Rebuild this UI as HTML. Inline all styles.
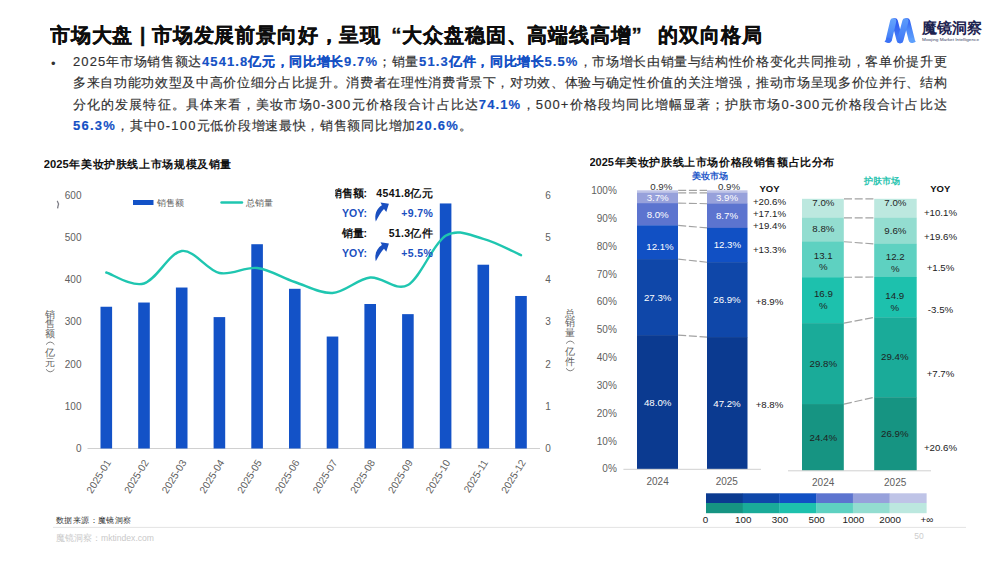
<!DOCTYPE html>
<html lang="zh"><head><meta charset="utf-8"><title>市场大盘</title>
<style>
html,body{margin:0;padding:0;background:#fff;}
body{width:1000px;height:562px;position:relative;overflow:hidden;font-family:"Liberation Sans",sans-serif;color:#111;}
.abs{position:absolute;white-space:nowrap;}
#title{left:50px;top:21px;width:711.7px;height:28px;overflow:hidden;white-space:normal;font-size:20.4px;font-weight:bold;line-height:28px;color:#0d0d0d;-webkit-text-stroke:0.3px #0d0d0d;text-align:justify;text-align-last:justify;}
#title i{font-style:normal;display:inline-block;width:1em;}
.pl i{font-style:normal;letter-spacing:1.1px;}
.pl{left:73px;font-size:13px;line-height:18px;color:#303030;letter-spacing:0.55px;-webkit-text-stroke:0.15px #303030;}
.pj{width:874.2px;height:18px;overflow:hidden;text-align:justify;text-align-last:justify;white-space:normal;}
.pl b{color:#1450c4;font-weight:bold;-webkit-text-stroke:0.15px #1450c4;}
#bullet{left:51px;top:55px;font-size:13px;line-height:18px;color:#333;}
.ct{font-size:11.5px;font-weight:bold;color:#111;line-height:14px;}
svg{position:absolute;left:0;top:0;}
svg text{font-family:"Liberation Sans",sans-serif;}
</style></head><body>

<div id="title" class="abs">市场大盘 | 市场发展前景向好，呈现<i style="text-align:right;text-align-last:right">“</i>大众盘稳固、高端线高增<i style="text-align:left;text-align-last:left">”</i> 的双向格局</div>
<div id="bullet" class="abs">•</div>
<div class="abs pl pj" id="pl0" style="top:53.1px;"><i>2025</i>年市场销售额达<b><i>4541.8</i>亿元，同比增长<i>9.7%</i></b>；销量<b><i>51.3</i>亿件，同比增长<i>5.5%</i></b>，市场增长由销量与结构性价格变化共同推动，客单价提升更</div>
<div class="abs pl pj" id="pl1" style="top:74.3px;">多来自功能功效型及中高价位细分占比提升。消费者在理性消费背景下，对功效、体验与确定性价值的关注增强，推动市场呈现多价位并行、结构</div>
<div class="abs pl pj" id="pl2" style="top:95.5px;">分化的发展特征。具体来看，美妆市场<i>0-300</i>元价格段合计占比达<b><i>74.1%</i></b>，<i>500+</i>价格段均同比增幅显著；护肤市场<i>0-300</i>元价格段合计占比达</div>
<div class="abs pl" id="pl3" style="top:116.7px;letter-spacing:0.7px;"><b><i style="letter-spacing:1.25px">56.3%</i></b>，其中<i style="letter-spacing:1.25px">0-100</i>元低价段增速最快，销售额同比增加<b><i style="letter-spacing:1.25px">20.6%</i></b>。</div>
<svg width="1000" height="562" viewBox="0 0 1000 562">
<defs>
<linearGradient id="lgL" gradientUnits="userSpaceOnUse" x1="0" y1="18" x2="0" y2="43"><stop offset="0" stop-color="#66a4fc"/><stop offset="0.55" stop-color="#4f8df9"/><stop offset="1" stop-color="#3a70f5"/></linearGradient>
<linearGradient id="lgL3" gradientUnits="userSpaceOnUse" x1="0" y1="18" x2="0" y2="43"><stop offset="0" stop-color="#5c9cfb"/><stop offset="0.6" stop-color="#4a86f8"/><stop offset="1" stop-color="#3c72f5"/></linearGradient>
<linearGradient id="lgD" gradientUnits="userSpaceOnUse" x1="0" y1="18" x2="0" y2="43"><stop offset="0" stop-color="#2a55ee"/><stop offset="0.5" stop-color="#3a6cf3"/><stop offset="1" stop-color="#4a86f8"/></linearGradient>
<linearGradient id="lgD2" gradientUnits="userSpaceOnUse" x1="0" y1="18" x2="0" y2="43"><stop offset="0" stop-color="#2a55ee"/><stop offset="0.45" stop-color="#4a86f8"/><stop offset="1" stop-color="#62a4fd"/></linearGradient>
</defs>

<g id="logo" stroke-linecap="round" fill="none" stroke-width="6.2">
<path d="M894.8 21.3 L899.7 40.2" stroke="url(#lgD)"/>
<path d="M907 21.3 L911.6 39.5" stroke="url(#lgD2)"/>
<path d="M915.9 41.6 C913.5 43.6 909.6 43.8 908.7 39.5 L912.5 37.5 Z" fill="#5d9ffc" stroke="none"/>
<path d="M893.2 21.3 L888.9 39.5" stroke="url(#lgL)"/>
<path d="M884.5 41.6 C887 43.6 890.9 43.8 891.8 39.5 L888 37.5 Z" fill="#3b72f5" stroke="none"/>
<path d="M900.3 40.2 L905.4 21.3" stroke="url(#lgL3)"/>
</g>
<text x="922" y="32.8" font-size="14.5" font-weight="bold" fill="#1d2350">魔镜洞察</text>
<text x="922" y="40.7" font-size="4.4" fill="#3a3f66" textLength="57" lengthAdjust="spacingAndGlyphs">Moojing Market Intelligence</text>
<text x="81.5" y="452.0" font-size="10" fill="#606060" text-anchor="end">0</text>
<text x="548" y="452.0" font-size="10" fill="#606060" text-anchor="middle">0</text>
<text x="81.5" y="409.8" font-size="10" fill="#606060" text-anchor="end">100</text>
<text x="548" y="409.8" font-size="10" fill="#606060" text-anchor="middle">1</text>
<text x="81.5" y="367.5" font-size="10" fill="#606060" text-anchor="end">200</text>
<text x="548" y="367.5" font-size="10" fill="#606060" text-anchor="middle">2</text>
<text x="81.5" y="325.2" font-size="10" fill="#606060" text-anchor="end">300</text>
<text x="548" y="325.2" font-size="10" fill="#606060" text-anchor="middle">3</text>
<text x="81.5" y="283.0" font-size="10" fill="#606060" text-anchor="end">400</text>
<text x="548" y="283.0" font-size="10" fill="#606060" text-anchor="middle">4</text>
<text x="81.5" y="240.8" font-size="10" fill="#606060" text-anchor="end">500</text>
<text x="548" y="240.8" font-size="10" fill="#606060" text-anchor="middle">5</text>
<text x="81.5" y="198.5" font-size="10" fill="#606060" text-anchor="end">600</text>
<text x="548" y="198.5" font-size="10" fill="#606060" text-anchor="middle">6</text>
<line x1="87.5" x2="540" y1="448.5" y2="448.5" stroke="#d0d0d0" stroke-width="1"/>
<rect x="100.50" y="306.75" width="11.6" height="141.75" fill="#1352c7"/>
<rect x="138.20" y="302.53" width="11.6" height="145.97" fill="#1352c7"/>
<rect x="175.90" y="287.53" width="11.6" height="160.97" fill="#1352c7"/>
<rect x="213.60" y="317.10" width="11.6" height="131.40" fill="#1352c7"/>
<rect x="251.30" y="244.22" width="11.6" height="204.28" fill="#1352c7"/>
<rect x="289.00" y="288.80" width="11.6" height="159.70" fill="#1352c7"/>
<rect x="326.70" y="336.54" width="11.6" height="111.96" fill="#1352c7"/>
<rect x="364.40" y="304.00" width="11.6" height="144.50" fill="#1352c7"/>
<rect x="402.10" y="314.14" width="11.6" height="134.36" fill="#1352c7"/>
<rect x="439.80" y="203.45" width="11.6" height="245.05" fill="#1352c7"/>
<rect x="477.50" y="264.71" width="11.6" height="183.79" fill="#1352c7"/>
<rect x="515.20" y="295.98" width="11.6" height="152.52" fill="#1352c7"/>
<text transform="translate(111.5,462.3) rotate(-58.5)" font-size="10.2" fill="#606060" text-anchor="end">2025-01</text>
<text transform="translate(149.2,462.3) rotate(-58.5)" font-size="10.2" fill="#606060" text-anchor="end">2025-02</text>
<text transform="translate(186.9,462.3) rotate(-58.5)" font-size="10.2" fill="#606060" text-anchor="end">2025-03</text>
<text transform="translate(224.6,462.3) rotate(-58.5)" font-size="10.2" fill="#606060" text-anchor="end">2025-04</text>
<text transform="translate(262.3,462.3) rotate(-58.5)" font-size="10.2" fill="#606060" text-anchor="end">2025-05</text>
<text transform="translate(300.0,462.3) rotate(-58.5)" font-size="10.2" fill="#606060" text-anchor="end">2025-06</text>
<text transform="translate(337.7,462.3) rotate(-58.5)" font-size="10.2" fill="#606060" text-anchor="end">2025-07</text>
<text transform="translate(375.4,462.3) rotate(-58.5)" font-size="10.2" fill="#606060" text-anchor="end">2025-08</text>
<text transform="translate(413.1,462.3) rotate(-58.5)" font-size="10.2" fill="#606060" text-anchor="end">2025-09</text>
<text transform="translate(450.8,462.3) rotate(-58.5)" font-size="10.2" fill="#606060" text-anchor="end">2025-10</text>
<text transform="translate(488.5,462.3) rotate(-58.5)" font-size="10.2" fill="#606060" text-anchor="end">2025-11</text>
<text transform="translate(526.2,462.3) rotate(-58.5)" font-size="10.2" fill="#606060" text-anchor="end">2025-12</text>
<path d="M106.3 272.5 C112.6 274.3 131.4 287.1 144.0 283.5 C156.6 279.9 169.1 252.8 181.7 251.0 C194.3 249.2 206.8 270.2 219.4 273.0 C232.0 275.8 244.5 266.5 257.1 268.0 C269.7 269.5 282.2 277.8 294.8 282.0 C307.4 286.2 319.9 293.8 332.5 293.0 C345.1 292.2 357.6 278.8 370.2 277.5 C382.8 276.2 395.3 291.9 407.9 285.0 C420.5 278.1 433.0 243.5 445.6 235.8 C458.2 228.1 470.7 235.6 483.3 238.8 C495.9 242.0 514.7 252.5 521.0 255.2" fill="none" stroke="#1fc6b0" stroke-width="2.4" stroke-linecap="round"/>
<rect x="133" y="200" width="20.5" height="5" fill="#1352c7"/>
<text x="157" y="206" font-size="9.3" fill="#606060">销售额</text>
<line x1="221.5" x2="242" y1="202.5" y2="202.5" stroke="#1fc6b0" stroke-width="2.4" stroke-linecap="round"/>
<text x="246" y="206" font-size="9.3" fill="#606060">总销量</text>
<path d="M57.2 200.8 Q59.2 203.5 58 206.2 L57.6 208.4" fill="none" stroke="#7d7d86" stroke-width="1.3"/>
<text x="50.2" y="317.8" font-size="9.5" fill="#606060" text-anchor="middle">销</text>
<text x="50.2" y="327.4" font-size="9.5" fill="#606060" text-anchor="middle">售</text>
<text x="50.2" y="337.0" font-size="9.5" fill="#606060" text-anchor="middle">额</text>
<path d="M46.0 344.6 Q50.2 339.5 54.400000000000006 344.6" fill="none" stroke="#606060" stroke-width="0.8"/>
<text x="50.2" y="356.2" font-size="9.5" fill="#606060" text-anchor="middle">亿</text>
<text x="50.2" y="365.8" font-size="9.5" fill="#606060" text-anchor="middle">元</text>
<path d="M46.0 369.3 Q50.2 374.40000000000003 54.400000000000006 369.3" fill="none" stroke="#606060" stroke-width="0.8"/>
<text x="570.2" y="316.8" font-size="9.5" fill="#606060" text-anchor="middle">总</text>
<text x="570.2" y="326.4" font-size="9.5" fill="#606060" text-anchor="middle">销</text>
<text x="570.2" y="336.0" font-size="9.5" fill="#606060" text-anchor="middle">量</text>
<path d="M566.0 343.6 Q570.2 338.5 574.4000000000001 343.6" fill="none" stroke="#606060" stroke-width="0.8"/>
<text x="570.2" y="355.2" font-size="9.5" fill="#606060" text-anchor="middle">亿</text>
<text x="570.2" y="364.8" font-size="9.5" fill="#606060" text-anchor="middle">件</text>
<path d="M566.0 368.3 Q570.2 373.40000000000003 574.4000000000001 368.3" fill="none" stroke="#606060" stroke-width="0.8"/>
<clipPath id="clipA"><rect x="335" y="180" width="60" height="90"/></clipPath>
<text x="367" y="197.0" font-size="10.5" font-weight="bold" fill="#111" text-anchor="end" clip-path="url(#clipA)">销售额:</text>
<text x="433.2" y="197.0" font-size="10.5" font-weight="bold" fill="#111" text-anchor="end" letter-spacing="0.35">4541.8亿元</text>
<text x="367" y="217.0" font-size="10.5" font-weight="bold" fill="#1a4fc0" text-anchor="end" clip-path="url(#clipA)">YOY:</text>
<text x="433.2" y="217.0" font-size="10.5" font-weight="bold" fill="#1a4fc0" text-anchor="end" letter-spacing="0.35">+9.7%</text>
<text x="367" y="236.9" font-size="10.5" font-weight="bold" fill="#111" text-anchor="end" clip-path="url(#clipA)">销量:</text>
<text x="433.2" y="236.9" font-size="10.5" font-weight="bold" fill="#111" text-anchor="end" letter-spacing="0.35">51.3亿件</text>
<text x="367" y="256.8" font-size="10.5" font-weight="bold" fill="#1a4fc0" text-anchor="end" clip-path="url(#clipA)">YOY:</text>
<text x="433.2" y="256.8" font-size="10.5" font-weight="bold" fill="#1a4fc0" text-anchor="end" letter-spacing="0.35">+5.5%</text>
<path transform="translate(0,0)" d="M375.8 221.5 C374.2 214.8 376.6 208.6 381.9 205.3 L380.5 202.4 L388.9 203.8 L386.3 211.9 L384 208.9 C381.2 211.6 378.6 216.2 375.8 221.5 Z" fill="#1a4fc0"/>
<path transform="translate(0,39.8)" d="M375.8 221.5 C374.2 214.8 376.6 208.6 381.9 205.3 L380.5 202.4 L388.9 203.8 L386.3 211.9 L384 208.9 C381.2 211.6 378.6 216.2 375.8 221.5 Z" fill="#1a4fc0"/>
<rect x="637.0" y="190.30" width="41.0" height="2.81" fill="#bfc4e7"/>
<rect x="637.0" y="192.81" width="41.0" height="10.60" fill="#97a1db"/>
<rect x="637.0" y="203.11" width="41.0" height="22.58" fill="#5c74cf"/>
<rect x="637.0" y="225.39" width="41.0" height="34.00" fill="#1150c4"/>
<rect x="637.0" y="259.09" width="41.0" height="76.33" fill="#0f47a9"/>
<rect x="637.0" y="335.12" width="41.0" height="133.98" fill="#0b3a90"/>
<rect x="707.0" y="190.30" width="40.5" height="2.81" fill="#bfc4e7"/>
<rect x="707.0" y="192.81" width="40.5" height="11.16" fill="#97a1db"/>
<rect x="707.0" y="203.67" width="40.5" height="24.53" fill="#5c74cf"/>
<rect x="707.0" y="227.90" width="40.5" height="34.56" fill="#1150c4"/>
<rect x="707.0" y="262.15" width="40.5" height="75.22" fill="#0f47a9"/>
<rect x="707.0" y="337.07" width="40.5" height="132.03" fill="#0b3a90"/>
<line x1="678.2" x2="707" y1="190.3" y2="190.3" stroke="#a2a2a2" stroke-width="1.15" stroke-dasharray="8 2.7"/>
<line x1="678.2" x2="707" y1="192.8" y2="192.8" stroke="#a2a2a2" stroke-width="1.15" stroke-dasharray="8 2.7"/>
<line x1="678.2" x2="707" y1="203.1" y2="203.7" stroke="#a2a2a2" stroke-width="1.15" stroke-dasharray="8 2.7"/>
<line x1="678.2" x2="707" y1="225.4" y2="227.9" stroke="#a2a2a2" stroke-width="1.15" stroke-dasharray="8 2.7"/>
<line x1="678.2" x2="707" y1="259.1" y2="262.2" stroke="#a2a2a2" stroke-width="1.15" stroke-dasharray="8 2.7"/>
<line x1="678.2" x2="707" y1="335.1" y2="337.1" stroke="#a2a2a2" stroke-width="1.15" stroke-dasharray="8 2.7"/>
<text x="616.8" y="472.4" font-size="10" fill="#606060" text-anchor="end">0%</text>
<text x="616.8" y="444.6" font-size="10" fill="#606060" text-anchor="end">10%</text>
<text x="616.8" y="416.7" font-size="10" fill="#606060" text-anchor="end">20%</text>
<text x="616.8" y="388.9" font-size="10" fill="#606060" text-anchor="end">30%</text>
<text x="616.8" y="361.0" font-size="10" fill="#606060" text-anchor="end">40%</text>
<text x="616.8" y="333.2" font-size="10" fill="#606060" text-anchor="end">50%</text>
<text x="616.8" y="305.3" font-size="10" fill="#606060" text-anchor="end">60%</text>
<text x="616.8" y="277.5" font-size="10" fill="#606060" text-anchor="end">70%</text>
<text x="616.8" y="249.6" font-size="10" fill="#606060" text-anchor="end">80%</text>
<text x="616.8" y="221.8" font-size="10" fill="#606060" text-anchor="end">90%</text>
<text x="616.8" y="193.9" font-size="10" fill="#606060" text-anchor="end">100%</text>
<line x1="623.4" x2="761" y1="469.3" y2="469.3" stroke="#d0d0d0" stroke-width="1"/>
<text x="661.3" y="189.8" font-size="9.7" fill="#333" text-anchor="middle">0.9%</text>
<text x="729" y="189.8" font-size="9.7" fill="#333" text-anchor="middle">0.9%</text>
<text x="657.7" y="200.8" font-size="9.7" fill="#fff" text-anchor="middle">3.7%</text>
<text x="657.7" y="217.7" font-size="9.7" fill="#fff" text-anchor="middle">8.0%</text>
<text x="660" y="249.6" font-size="9.7" fill="#fff" text-anchor="middle">12.1%</text>
<text x="657.7" y="300.6" font-size="9.7" fill="#fff" text-anchor="middle">27.3%</text>
<text x="657.7" y="405.8" font-size="9.7" fill="#fff" text-anchor="middle">48.0%</text>
<text x="727" y="200.9" font-size="9.7" fill="#fff" text-anchor="middle">3.9%</text>
<text x="727" y="219.1" font-size="9.7" fill="#fff" text-anchor="middle">8.7%</text>
<text x="727.4" y="248.2" font-size="9.7" fill="#fff" text-anchor="middle">12.3%</text>
<text x="727" y="303.3" font-size="9.7" fill="#fff" text-anchor="middle">26.9%</text>
<text x="727" y="406.5" font-size="9.7" fill="#fff" text-anchor="middle">47.2%</text>
<text x="657.6" y="485.0" font-size="10" fill="#606060" text-anchor="middle">2024</text>
<text x="726.8" y="485.0" font-size="10" fill="#606060" text-anchor="middle">2025</text>
<text x="710.4" y="179.3" font-size="9.35" font-weight="bold" fill="#2559c9" text-anchor="middle">美妆市场</text>
<text x="769.5" y="192.3" font-size="9.5" font-weight="bold" fill="#111" text-anchor="middle">YOY</text>
<text x="769.5" y="205.2" font-size="9.7" fill="#222" text-anchor="middle">+20.6%</text>
<text x="769.5" y="216.5" font-size="9.7" fill="#222" text-anchor="middle">+17.1%</text>
<text x="769.5" y="229.0" font-size="9.7" fill="#222" text-anchor="middle">+19.4%</text>
<text x="769.5" y="252.5" font-size="9.7" fill="#222" text-anchor="middle">+13.3%</text>
<text x="769.5" y="305.1" font-size="9.7" fill="#222" text-anchor="middle">+8.9%</text>
<text x="769.5" y="408.3" font-size="9.7" fill="#222" text-anchor="middle">+8.8%</text>
<rect x="802.0" y="198.80" width="41.8" height="19.31" fill="#bce8df"/>
<rect x="802.0" y="217.81" width="41.8" height="24.19" fill="#93ddd0"/>
<rect x="802.0" y="241.70" width="41.8" height="35.87" fill="#5ed1c1"/>
<rect x="802.0" y="277.26" width="41.8" height="46.18" fill="#1dc1ad"/>
<rect x="802.0" y="323.15" width="41.8" height="81.21" fill="#1aab99"/>
<rect x="802.0" y="404.05" width="41.8" height="66.55" fill="#169482"/>
<rect x="874.2" y="198.80" width="42.5" height="19.31" fill="#bce8df"/>
<rect x="874.2" y="217.81" width="42.5" height="26.36" fill="#93ddd0"/>
<rect x="874.2" y="243.87" width="42.5" height="33.42" fill="#5ed1c1"/>
<rect x="874.2" y="276.99" width="42.5" height="40.75" fill="#1dc1ad"/>
<rect x="874.2" y="317.45" width="42.5" height="80.12" fill="#1aab99"/>
<rect x="874.2" y="397.27" width="42.5" height="73.33" fill="#169482"/>
<line x1="844" x2="874.2" y1="198.8" y2="198.8" stroke="#a2a2a2" stroke-width="1.15" stroke-dasharray="8 2.7"/>
<line x1="844" x2="874.2" y1="217.8" y2="217.8" stroke="#a2a2a2" stroke-width="1.15" stroke-dasharray="8 2.7"/>
<line x1="844" x2="874.2" y1="241.7" y2="243.9" stroke="#a2a2a2" stroke-width="1.15" stroke-dasharray="8 2.7"/>
<line x1="844" x2="874.2" y1="277.3" y2="277.0" stroke="#a2a2a2" stroke-width="1.15" stroke-dasharray="8 2.7"/>
<line x1="844" x2="874.2" y1="323.1" y2="317.4" stroke="#a2a2a2" stroke-width="1.15" stroke-dasharray="8 2.7"/>
<line x1="844" x2="874.2" y1="404.1" y2="397.3" stroke="#a2a2a2" stroke-width="1.15" stroke-dasharray="8 2.7"/>
<line x1="788" x2="931" y1="470.8" y2="470.8" stroke="#d0d0d0" stroke-width="1"/>
<text x="823.4" y="206.2" font-size="9.7" fill="#1f1f1f" text-anchor="middle">7.0%</text>
<text x="823.4" y="232.2" font-size="9.7" fill="#1f1f1f" text-anchor="middle">8.8%</text>
<text x="823.2" y="259.3" font-size="9.7" fill="#1f1f1f" text-anchor="middle">13.1</text>
<text x="823.2" y="270.0" font-size="9.7" fill="#1f1f1f" text-anchor="middle">%</text>
<text x="823.4" y="297.3" font-size="9.7" fill="#1f1f1f" text-anchor="middle">16.9</text>
<text x="823.4" y="308.7" font-size="9.7" fill="#1f1f1f" text-anchor="middle">%</text>
<text x="823.3" y="366.5" font-size="9.7" fill="#1f1f1f" text-anchor="middle">29.8%</text>
<text x="823.3" y="440.8" font-size="9.7" fill="#1f1f1f" text-anchor="middle">24.4%</text>
<text x="895.4" y="206.2" font-size="9.7" fill="#1f1f1f" text-anchor="middle">7.0%</text>
<text x="895.4" y="233.9" font-size="9.7" fill="#1f1f1f" text-anchor="middle">9.6%</text>
<text x="895.2" y="259.9" font-size="9.7" fill="#1f1f1f" text-anchor="middle">12.2</text>
<text x="895.2" y="271.7" font-size="9.7" fill="#1f1f1f" text-anchor="middle">%</text>
<text x="894.8" y="298.7" font-size="9.7" fill="#1f1f1f" text-anchor="middle">14.9</text>
<text x="894.8" y="310.5" font-size="9.7" fill="#1f1f1f" text-anchor="middle">%</text>
<text x="894.8" y="360.3" font-size="9.7" fill="#1f1f1f" text-anchor="middle">29.4%</text>
<text x="894.8" y="436.7" font-size="9.7" fill="#1f1f1f" text-anchor="middle">26.9%</text>
<text x="823.2" y="486.1" font-size="10" fill="#606060" text-anchor="middle">2024</text>
<text x="895.2" y="486.1" font-size="10" fill="#606060" text-anchor="middle">2025</text>
<text x="881.6" y="184.1" font-size="9.4" font-weight="bold" fill="#2bc4b0" text-anchor="middle">护肤市场</text>
<text x="940.3" y="192" font-size="9.5" font-weight="bold" fill="#111" text-anchor="middle">YOY</text>
<text x="940.5" y="215.5" font-size="9.7" fill="#222" text-anchor="middle">+10.1%</text>
<text x="940.5" y="240.1" font-size="9.7" fill="#222" text-anchor="middle">+19.6%</text>
<text x="940.5" y="270.6" font-size="9.7" fill="#222" text-anchor="middle">+1.5%</text>
<text x="940.5" y="313.3" font-size="9.7" fill="#222" text-anchor="middle">-3.5%</text>
<text x="940.5" y="376.8" font-size="9.7" fill="#222" text-anchor="middle">+7.7%</text>
<text x="940.5" y="451.1" font-size="9.7" fill="#222" text-anchor="middle">+20.6%</text>
<rect x="706.00" y="493.3" width="37.02" height="9.8" fill="#0b3a90"/>
<rect x="706.00" y="503" width="37.02" height="10.2" fill="#169482"/>
<rect x="742.72" y="493.3" width="37.02" height="9.8" fill="#0f47a9"/>
<rect x="742.72" y="503" width="37.02" height="10.2" fill="#1aab99"/>
<rect x="779.44" y="493.3" width="37.02" height="9.8" fill="#1150c4"/>
<rect x="779.44" y="503" width="37.02" height="10.2" fill="#1dc1ad"/>
<rect x="816.16" y="493.3" width="37.02" height="9.8" fill="#5c74cf"/>
<rect x="816.16" y="503" width="37.02" height="10.2" fill="#5ed1c1"/>
<rect x="852.88" y="493.3" width="37.02" height="9.8" fill="#97a1db"/>
<rect x="852.88" y="503" width="37.02" height="10.2" fill="#93ddd0"/>
<rect x="889.60" y="493.3" width="37.02" height="9.8" fill="#bfc4e7"/>
<rect x="889.60" y="503" width="37.02" height="10.2" fill="#bce8df"/>
<text x="705.5" y="522.8" font-size="9.8" fill="#222" text-anchor="middle">0</text>
<text x="743.22" y="522.8" font-size="9.8" fill="#222" text-anchor="middle">100</text>
<text x="779.94" y="522.8" font-size="9.8" fill="#222" text-anchor="middle">300</text>
<text x="816.66" y="522.8" font-size="9.8" fill="#222" text-anchor="middle">500</text>
<text x="853.38" y="522.8" font-size="9.8" fill="#222" text-anchor="middle">1000</text>
<text x="890.1" y="522.8" font-size="9.8" fill="#222" text-anchor="middle">2000</text>
<text x="926.8199999999999" y="522.8" font-size="9.8" fill="#222" text-anchor="middle">+∞</text>
<line x1="53" x2="966" y1="527.4" y2="527.4" stroke="#e4e4e4" stroke-width="1"/>
<text x="56" y="523" font-size="8.3" fill="#333" textLength="75" lengthAdjust="spacing">数据来源：魔镜洞察</text>
<text x="56" y="541" font-size="8.6" fill="#c9c9c9">魔镜洞察：mktindex.com</text>
<text x="919" y="538.6" font-size="8.5" fill="#cdcdcd" text-anchor="middle">50</text>
</svg>
<div class="abs ct" style="left:43.8px;top:157px;font-size:11.2px;width:187.7px;white-space:normal;text-align:justify;text-align-last:justify;height:14px;overflow:hidden;">2025年美妆护肤线上市场规模及销量</div>
<div class="abs ct" style="left:589.5px;top:155px;font-size:11px;width:245px;white-space:normal;text-align:justify;text-align-last:justify;height:14px;overflow:hidden;">2025年美妆护肤线上市场价格段销售额占比分布</div>
</body></html>
